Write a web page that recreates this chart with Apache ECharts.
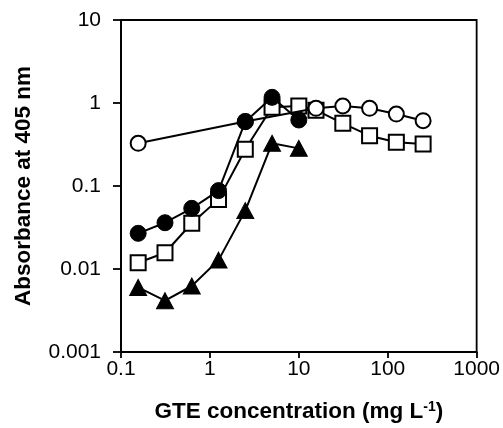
<!DOCTYPE html>
<html>
<head>
<meta charset="utf-8">
<script src="https://cdn.jsdelivr.net/npm/echarts@6/dist/echarts.min.js"></script>
<style>html,body{margin:0;padding:0;background:#fff}#c{width:503px;height:428px}</style>
</head>
<body>
<div id="c"></div>
<script>
// Data
var xTickLabels = ['0.1', '1', '10', '100', '1000'];
var yTickLabels = ['0.001', '0.01', '0.1', '1', '10'];

var openCircleX = [0.156, 2.5, 15.6, 31.25, 62.5, 125, 250];
var openCircleY = [0.327, 0.6, 0.863, 0.92, 0.863, 0.736, 0.612];

var filledCircleX = [0.156, 0.3125, 0.625, 1.25, 2.5, 5, 10];
var filledCircleY = [0.0269, 0.0361, 0.0538, 0.088, 0.595, 1.17, 0.624];

var openSquareX = [0.156, 0.3125, 0.625, 1.25, 2.5, 5, 10, 15.6, 31.25, 62.5, 125, 250];
var openSquareY = [0.0119, 0.0157, 0.0356, 0.069, 0.277, 0.887, 0.92, 0.82, 0.569, 0.404, 0.336, 0.32];

var triangleX = [0.156, 0.3125, 0.625, 1.25, 2.5, 5, 10];
var triangleY = [0.0060, 0.00415, 0.00624, 0.0128, 0.0505, 0.327, 0.284];

function pairs(xs, ys) { return xs.map(function (x, i) { return [x, ys[i]]; }); }
function tickFmt(labels) {
  return function (v) {
    var best = labels[0], d = Infinity;
    labels.forEach(function (l) {
      var dd = Math.abs(Math.log10(parseFloat(l)) - Math.log10(v));
      if (dd < d) { d = dd; best = l; }
    });
    return best;
  };
}

var FONT = "'Liberation Sans', Arial, sans-serif";
var chart = echarts.init(document.getElementById('c'), null, { renderer: 'canvas' });
var lineStyle = { color: '#000', width: 2 };
chart.setOption({
  animation: false,
  backgroundColor: '#fff',
  grid: { left: 121, right: 26, top: 20, bottom: 76, show: true, borderColor: '#000', borderWidth: 1.8, backgroundColor: 'transparent' },
  xAxis: {
    type: 'log', logBase: 10, min: 0.1, max: 1000,
    axisLine: { show: true, onZero: false, lineStyle: { color: '#000', width: 1.8 } },
    axisTick: { show: true, inside: false, length: 6, lineStyle: { color: '#000', width: 1.8 } },
    minorTick: { show: false },
    splitLine: { show: false },
    axisLabel: { color: '#000', fontSize: 21, fontFamily: FONT, margin: 7, formatter: tickFmt(xTickLabels) },
    name: 'GTE concentration (mg L{sup|-1})',
    nameLocation: 'middle', nameGap: 48,
    nameTextStyle: {
      color: '#000', fontSize: 22.5, fontWeight: 'bold', fontFamily: FONT,
      rich: { sup: { fontSize: 14, fontWeight: 'bold', fontFamily: FONT, color: '#000', verticalAlign: 'top', padding: [0, 0, 8, 0] } }
    }
  },
  yAxis: {
    type: 'log', logBase: 10, min: 0.001, max: 10,
    axisLine: { show: true, onZero: false, lineStyle: { color: '#000', width: 1.8 } },
    axisTick: { show: true, inside: false, length: 8, lineStyle: { color: '#000', width: 1.8 } },
    minorTick: { show: false },
    splitLine: { show: false },
    axisLabel: { color: '#000', fontSize: 21, fontFamily: FONT, margin: 20, formatter: tickFmt(yTickLabels) },
    name: 'Absorbance at 405 nm',
    nameLocation: 'middle', nameGap: 86, nameRotate: 90,
    nameTextStyle: { color: '#000', fontSize: 22.5, fontWeight: 'bold', fontFamily: FONT }
  },
  series: [
    {
      name: 'open squares', type: 'line', z: 2, data: pairs(openSquareX, openSquareY),
      symbol: 'rect', symbolSize: 15, showAllSymbol: true,
      lineStyle: lineStyle, itemStyle: { color: '#fff', borderColor: '#000', borderWidth: 2 }
    },
    {
      name: 'open circles', type: 'line', z: 3, data: pairs(openCircleX, openCircleY),
      symbol: 'circle', symbolSize: 15, showAllSymbol: true,
      lineStyle: lineStyle, itemStyle: { color: '#fff', borderColor: '#000', borderWidth: 2 }
    },
    {
      name: 'triangles', type: 'line', z: 4, data: pairs(triangleX, triangleY),
      symbol: 'triangle', symbolSize: [17, 16], showAllSymbol: true,
      lineStyle: lineStyle, itemStyle: { color: '#000', borderColor: '#000', borderWidth: 1 }
    },
    {
      name: 'filled circles', type: 'line', z: 5, data: pairs(filledCircleX, filledCircleY),
      symbol: 'circle', symbolSize: 16, showAllSymbol: true,
      lineStyle: lineStyle, itemStyle: { color: '#000', borderColor: '#000', borderWidth: 1 }
    }
  ]
});
</script>
</body>
</html>
